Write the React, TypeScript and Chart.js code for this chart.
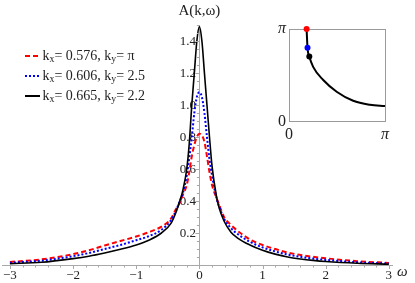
import React, { useEffect, useRef } from "react";
import { Chart, registerables } from "chart.js";
Chart.register(...registerables);

// ---- main spectral function data ----
const omega = [-3, -2.5, -2, -1.75, -1.5, -1.25, -1, -0.8, -0.6, -0.45, -0.37, -0.31, -0.26, -0.2, -0.16, -0.12, -0.08, -0.04, 0, 0.04, 0.08, 0.12, 0.16, 0.2, 0.27, 0.31, 0.39, 0.5, 0.6, 0.8, 1, 1.2, 1.4, 1.6, 1.8, 2, 2.5, 3];
const redA = [0.019, 0.035, 0.068, 0.092, 0.122, 0.15, 0.178, 0.205, 0.24, 0.29, 0.35, 0.39, 0.44, 0.5, 0.58, 0.68, 0.75, 0.8, 0.82, 0.81, 0.77, 0.68, 0.58, 0.5, 0.42, 0.38, 0.3, 0.25, 0.215, 0.16, 0.125, 0.1, 0.078, 0.063, 0.051, 0.042, 0.024, 0.013];
const blueA = [0.014, 0.027, 0.055, 0.075, 0.1, 0.125, 0.155, 0.18, 0.22, 0.28, 0.34, 0.4, 0.45, 0.56, 0.67, 0.8, 0.95, 1.05, 1.08, 1.05, 0.95, 0.8, 0.66, 0.56, 0.42, 0.37, 0.29, 0.23, 0.195, 0.145, 0.11, 0.085, 0.065, 0.051, 0.04, 0.032, 0.017, 0.009];
const blackA = [0.008, 0.017, 0.04, 0.055, 0.075, 0.098, 0.125, 0.155, 0.2, 0.26, 0.33, 0.4, 0.47, 0.6, 0.76, 1.0, 1.2, 1.4, 1.49, 1.4, 1.2, 1.0, 0.8, 0.62, 0.43, 0.36, 0.275, 0.205, 0.17, 0.125, 0.092, 0.068, 0.05, 0.038, 0.029, 0.022, 0.011, 0.005];

const legendKx = ["0.576", "0.606", "0.665"];
const legendKy = ["π", "2.5", "2.2"];
const seriesColors = ["#ff0000", "#0000ff", "#000000"];
const seriesDash = [[5, 3], [2, 2], []];

const xMajorTicks = [-3, -2, -1, 0, 1, 2, 3];
const yMajorTicks = [0.2, 0.4, 0.6, 0.8, 1.0, 1.2, 1.4];

// ---- inset (Fermi surface) ----
const insetKx = [0.576, 0.606, 0.665, 0.79, 1.12, 1.56, 2.1, 2.65, 3.1416];
const insetKy = [3.1416, 2.5, 2.2, 1.85, 1.4, 1.0, 0.69, 0.555, 0.51];
const markerKx = [0.576, 0.606, 0.665];
const markerKy = [3.1416, 2.5, 2.2];
const insetTicks = [0, Math.PI];
const insetTickLabels = ["0", "π"];

const AXIS = "#a8a8a8";
const TXT = "#222";
const SERIF = "'Liberation Serif', 'DejaVu Serif', serif";

function minorList(lo: number, hi: number, step: number) {
  const out: number[] = [];
  const n = Math.round((hi - lo) / step);
  for (let i = 0; i <= n; i++) out.push(Math.round((lo + i * step) * 1000) / 1000);
  return out;
}

function drawRich(ctx: CanvasRenderingContext2D, parts: { t: string; sub?: boolean }[], x: number, y: number, size: number) {
  let cx = x;
  for (const p of parts) {
    ctx.font = `${p.sub ? size * 0.7 : size}px ${SERIF}`;
    ctx.fillText(p.t, cx, p.sub ? y + size * 0.22 : y);
    cx += ctx.measureText(p.t).width;
  }
}

export default function App() {
  const mainRef = useRef<HTMLCanvasElement>(null);
  const insetRef = useRef<HTMLCanvasElement>(null);

  useEffect(() => {
    const xMinor = minorList(-3, 3, 0.2);
    const yMinor = minorList(0, 1.5, 0.05);

    const yLabels = {
      id: "yLabels",
      beforeDatasetsDraw(chart: any) {
        const { ctx } = chart;
        const xs = chart.scales.x;
        const ys = chart.scales.y;
        const x0 = xs.getPixelForValue(0);
        ctx.save();
        ctx.fillStyle = TXT;
        ctx.font = `13px ${SERIF}`;
        ctx.textAlign = "right";
        ctx.textBaseline = "middle";
        yMajorTicks.forEach((v) => ctx.fillText(v.toFixed(1), x0 - 3.5, ys.getPixelForValue(v) + 0.5));
        ctx.restore();
      },
    };

    const overlay = {
      id: "overlay",
      afterDraw(chart: any) {
        const { ctx } = chart;
        const xs = chart.scales.x;
        const ys = chart.scales.y;
        const x0 = xs.getPixelForValue(0);
        const y0 = ys.getPixelForValue(0);
        ctx.save();
        ctx.strokeStyle = AXIS;
        ctx.lineWidth = 1;
        xMinor.forEach((v) => {
          const px = Math.round(xs.getPixelForValue(v)) + 0.5;
          const major = xMajorTicks.some((m) => Math.abs(m - v) < 1e-6);
          ctx.beginPath();
          ctx.moveTo(px, y0);
          ctx.lineTo(px, y0 + (major ? 4 : 2.5));
          ctx.stroke();
        });
        yMinor.forEach((v) => {
          if (v === 0) return;
          const py = Math.round(ys.getPixelForValue(v)) + 0.5;
          const major = yMajorTicks.some((m) => Math.abs(m - v) < 1e-6);
          ctx.beginPath();
          ctx.moveTo(x0, py);
          ctx.lineTo(x0 - (major ? 4 : 2.5), py);
          ctx.stroke();
        });
        // axis titles
        ctx.fillStyle = TXT;
        ctx.textAlign = "center";
        ctx.textBaseline = "alphabetic";
        ctx.font = `15px ${SERIF}`;
        ctx.fillText("A(k,ω)", x0, 15);
        ctx.textAlign = "left";
        ctx.font = `italic 15px ${SERIF}`;
        ctx.fillText("ω", chart.chartArea.right + 5, 276);
        // legend
        const rows = [56, 76, 96];
        rows.forEach((ry, i) => {
          ctx.strokeStyle = seriesColors[i];
          ctx.lineWidth = 2;
          ctx.setLineDash(seriesDash[i]);
          ctx.beginPath();
          ctx.moveTo(25, ry);
          ctx.lineTo(40, ry);
          ctx.stroke();
          ctx.setLineDash([]);
          ctx.fillStyle = TXT;
          ctx.textBaseline = "middle";
          drawRich(ctx, [
            { t: "k" }, { t: "x", sub: true }, { t: "= " + legendKx[i] + ", k" }, { t: "y", sub: true }, { t: "= " + legendKy[i] },
          ], 42.5, ry, 14);
        });
        ctx.restore();
      },
    };

    const mk = (arr: number[]) => omega.map((x, i) => ({ x, y: arr[i] }));
    const main = new Chart(mainRef.current!, {
      type: "line",
      data: {
        datasets: [
          { data: mk(redA), borderColor: seriesColors[0], borderWidth: 2, borderDash: seriesDash[0], order: 3 },
          { data: mk(blueA), borderColor: seriesColors[1], borderWidth: 2, borderDash: seriesDash[1], order: 2 },
          { data: mk(blackA), borderColor: seriesColors[2], borderWidth: 1.6, order: 1 },
        ].map((d) => ({ ...d, pointRadius: 0, fill: false, cubicInterpolationMode: "monotone" as const })),
      },
      options: {
        responsive: false,
        animation: false,
        devicePixelRatio: 1,
        layout: { padding: { left: 0, right: 23, top: 25, bottom: 18 } },
        plugins: { legend: { display: false }, tooltip: { enabled: false } },
        scales: {
          x: {
            type: "linear",
            min: -3.11,
            max: 3.05,
            position: { y: 0 } as any,
            grid: { display: true, drawOnChartArea: false, drawTicks: false },
            border: { color: AXIS, width: 1 },
            afterBuildTicks: (s: any) => { s.ticks = xMajorTicks.map((v) => ({ value: v })); },
            ticks: {
              autoSkip: false, maxRotation: 0, padding: 3, color: TXT,
              font: { family: SERIF, size: 13 },
              callback: (v: any) => (Number(v) < 0 ? "−" + Math.abs(Number(v)) : String(v)),
            },
          },
          y: {
            type: "linear",
            min: 0,
            max: 1.5,
            position: { x: 0 } as any,
            grid: { display: true, drawOnChartArea: false, drawTicks: false },
            border: { color: AXIS, width: 1 },
            afterBuildTicks: (s: any) => { s.ticks = yMajorTicks.map((v) => ({ value: v })); },
            ticks: { display: false },
          },
        },
      },
      plugins: [yLabels, overlay],
    });

    const frame = {
      id: "frame",
      beforeDatasetsDraw(chart: any) {
        const { ctx, chartArea: a } = chart;
        const ys = chart.scales.y;
        ctx.save();
        ctx.strokeStyle = "#9a9a9a";
        ctx.lineWidth = 1;
        ctx.strokeRect(Math.round(a.left) + 0.5, Math.round(a.top) + 0.5, Math.round(a.right - a.left), Math.round(a.bottom - a.top));
        ctx.fillStyle = TXT;
        ctx.textAlign = "right";
        ctx.textBaseline = "middle";
        insetTicks.forEach((v, i) => {
          ctx.font = `${i > 0 ? "italic " : ""}16px ${SERIF}`;
          ctx.fillText(insetTickLabels[i], a.left - 3, ys.getPixelForValue(v) + (i > 0 ? 0 : 1));
        });
        ctx.restore();
      },
    };

    const insetTickFont = (c: any) => ({ family: SERIF, size: 16, style: c.tick && c.tick.value > 0.5 ? ("italic" as const) : ("normal" as const) });
    const inset = new Chart(insetRef.current!, {
      type: "line",
      data: {
        datasets: [
          { data: markerKx.slice(0, 1).map((x) => ({ x, y: markerKy[0] })), showLine: false, pointRadius: 3, pointBackgroundColor: "#ff0000", pointBorderWidth: 0, clip: false as any },
          { data: markerKx.slice(1, 2).map((x) => ({ x, y: markerKy[1] })), showLine: false, pointRadius: 3, pointBackgroundColor: "#0000ff", pointBorderWidth: 0, clip: false as any },
          { data: markerKx.slice(2, 3).map((x) => ({ x, y: markerKy[2] })), showLine: false, pointRadius: 3, pointBackgroundColor: "#000000", pointBorderWidth: 0, clip: false as any },
          { data: insetKx.map((x, i) => ({ x, y: insetKy[i] })), borderColor: "#000", borderWidth: 2, pointRadius: 0, cubicInterpolationMode: "monotone" as const, clip: false as any },
        ],
      },
      options: {
        responsive: false,
        animation: false,
        devicePixelRatio: 1,
        layout: { padding: { left: 24, right: 25, top: 19, bottom: 24 } },
        plugins: { legend: { display: false }, tooltip: { enabled: false } },
        scales: {
          x: {
            type: "linear", min: 0, max: Math.PI, position: { y: 0 } as any,
            grid: { display: false }, border: { display: false },
            afterBuildTicks: (s: any) => { s.ticks = insetTicks.map((v) => ({ value: v })); },
            ticks: { autoSkip: false, maxRotation: 0, padding: -4, color: TXT, font: insetTickFont as any, callback: (v: any) => (Number(v) > 0.5 ? insetTickLabels[1] : insetTickLabels[0]) },
          },
          y: {
            type: "linear", min: 0, max: Math.PI, position: { x: 0 } as any,
            grid: { display: false }, border: { display: false },
            afterBuildTicks: (s: any) => { s.ticks = insetTicks.map((v) => ({ value: v })); },
            ticks: { display: false },
          },
        },
      },
      plugins: [frame],
    });

    return () => {
      main.destroy();
      inset.destroy();
    };
  }, []);

  return (
    <div style={{ position: "fixed", left: 0, top: 0, width: 415, height: 283, background: "#fff" }}>
      <canvas ref={mainRef} width={415} height={283} style={{ position: "absolute", left: 0, top: 0, width: 415, height: 283 }} />
      <canvas ref={insetRef} width={145} height={135} style={{ position: "absolute", left: 265, top: 10, width: 145, height: 135 }} />
    </div>
  );
}
